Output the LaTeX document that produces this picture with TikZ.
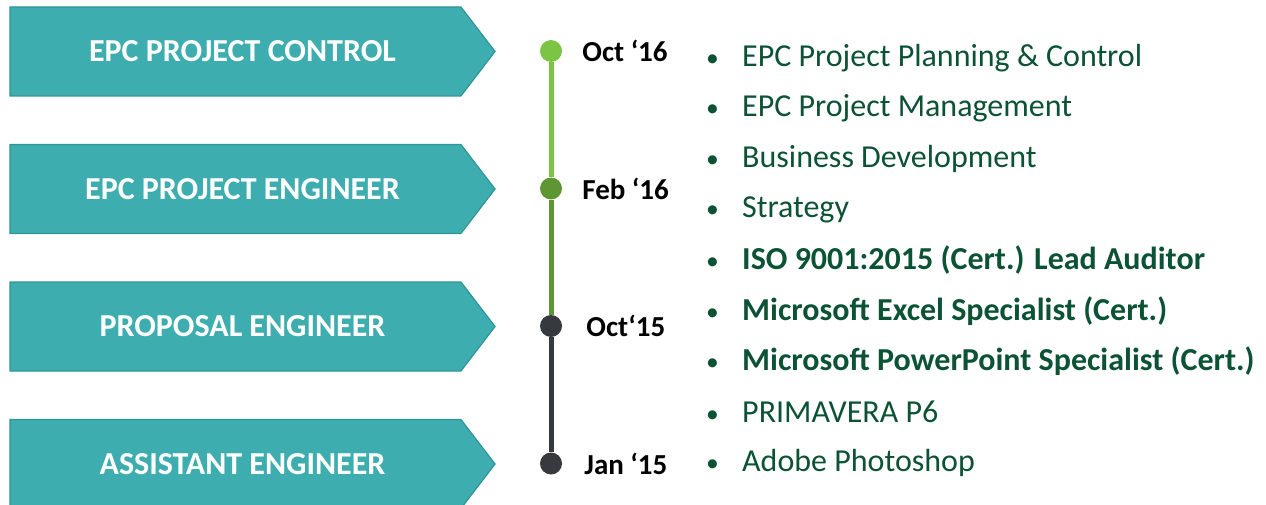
\documentclass[tikz,border=0pt]{standalone}
\usepackage{fontspec}
\setmainfont{Carlito}
\usetikzlibrary{shapes.symbols,positioning}

\definecolor{tealbox}{HTML}{3DADAF}
\definecolor{tealedge}{HTML}{2F9597}
\definecolor{lightgreen}{HTML}{7CC444}
\definecolor{midgreen}{HTML}{5E9634}
\definecolor{darkgrey}{HTML}{36393D}
\definecolor{listgreen}{HTML}{0C5234}

\begin{document}
\begin{tikzpicture}[
      x=1pt, y=-1pt,
      node distance = 137.5pt,
      auto
    ]

    \tikzstyle{stepbox} = [
        signal,
        signal to=east,
        signal pointer angle=105,
        draw=tealedge,
        fill=tealbox,
        line width=1.2pt,
        minimum width=485pt,
        minimum height=89pt,
        text=white,
        font=\fontsize{32}{36}\selectfont\bfseries
    ]

    \tikzstyle{dot} = [
        circle,
        minimum size=22pt,
        inner sep=0pt
    ]

    \tikzstyle{datelbl} = [
        anchor=west,
        inner sep=0pt,
        font=\fontsize{29}{32}\selectfont\bfseries
    ]

    \tikzstyle{item} = [
        anchor=west,
        inner sep=0pt,
        text=listgreen,
        font=\fontsize{32}{36}\selectfont
    ]

    \useasboundingbox (0,0) rectangle (1266,505);

    % career steps
    \node [stepbox]                        (control) at (235.5,51.5) {\hspace*{14pt}EPC PROJECT CONTROL};
    \node [stepbox, below of=control]     (projeng) {\hspace*{14pt}EPC PROJECT ENGINEER};
    \node [stepbox, below of=projeng]     (proposal) {\hspace*{14pt}PROPOSAL ENGINEER};
    \node [stepbox, below of=proposal]    (assistant) {\hspace*{14pt}ASSISTANT ENGINEER};

    % timeline
    \node [dot, fill=lightgreen]            (oct16) at (551,51) {};
    \node [dot, fill=midgreen, below of=oct16]  (feb16) {};
    \node [dot, fill=darkgrey, below of=feb16]  (oct15) {};
    \node [dot, fill=darkgrey, below of=oct15]  (jan15) {};

    \draw [line width=5pt, lightgreen] (oct16) -- (feb16);
    \draw [line width=5pt, midgreen] (feb16) -- (oct15);
    \draw [line width=5pt, darkgrey] (oct15) -- (jan15);

    \node [datelbl, right=20pt of oct16] (loct16) {Oct ‘16};
    \node [datelbl, right=20pt of feb16] (lfeb16) {Feb ‘16};
    \node [datelbl, right=24pt of oct15] (loct15) {Oct‘15};
    \node [datelbl, right=22pt of jan15] (ljan15) {Jan ‘15};

    % skills
    \foreach \txt [count=\i from 0] in {
        EPC Project Planning \& Control,
        EPC Project Management,
        Business Development,
        Strategy,
        \textbf{ISO 9001:2015 (Cert.) Lead Auditor},
        \textbf{Microsoft Excel Specialist (Cert.)},
        \textbf{Microsoft PowerPoint Specialist (Cert.)},
        PRIMAVERA P6,
        Adobe Photoshop}
      \node [item] (skill\i) at (706,58+50.6*\i) {\makebox[36pt][l]{\scalebox{0.8}{\textbullet}}\txt};

\end{tikzpicture}
\end{document}
